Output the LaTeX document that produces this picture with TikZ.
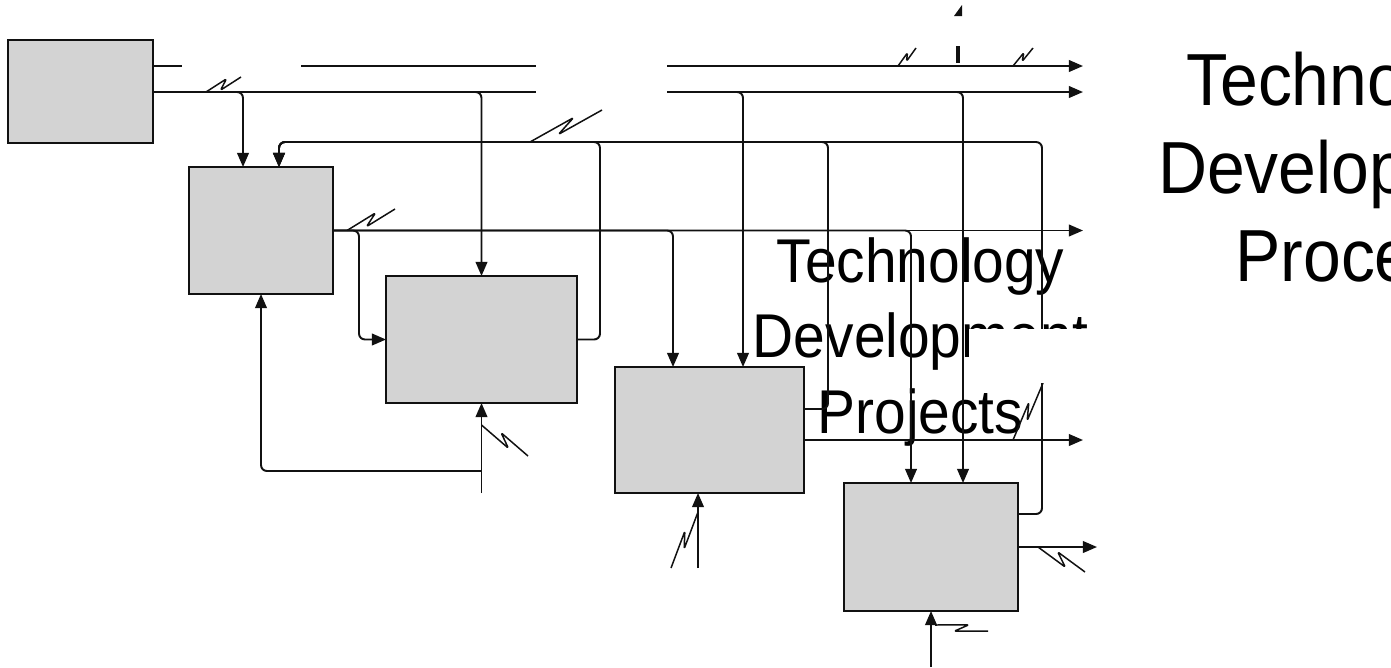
\documentclass[tikz,border=0pt]{standalone}
\usepackage{fontspec}
\setmainfont{Liberation Sans}
\newfontfamily\labelfont[FakeStretch=0.92]{Liberation Sans}
\usetikzlibrary{arrows.meta,calc}
\definecolor{boxgray}{RGB}{211,211,211}
\definecolor{ink}{RGB}{17,17,17}

% lightning-bolt mark on a flow line: start, end, side angles, offset
\newcommand\tunnel[5]{%
  \draw[zig] (#1) -- ($(#1)!0.63!(#2)!#5!#3:(#2)$)
                  -- ($(#1)!0.37!(#2)!#5!#4:(#2)$) -- (#2);}

\tikzset{
  procbox/.style={draw=ink, line width=1.3pt, fill=boxgray, inner sep=0pt, outer sep=0pt},
  flow/.style={draw=ink, line width=1.1pt, rounded corners=3.4pt},
  arr/.style={flow, -{Triangle[length=8pt,width=6.6pt]}},
  zig/.style={draw=ink, line width=0.85pt, line join=round, rounded corners=0.8pt},
  midtitle/.style={anchor=base, inner sep=0pt, text=black,
    font=\labelfont\fontsize{35.2}{42}\selectfont},
  sidetitle/.style={anchor=base, inner sep=0pt, text=black,
    font=\labelfont\fontsize{42}{50}\selectfont},
}

\begin{document}
\begin{tikzpicture}[x=0.02cm, y=-0.02cm]
\useasboundingbox (0,0) rectangle (1391,667);

% activity boxes
\node[procbox, minimum width=2.90cm, minimum height=2.06cm] (A) at (80.5,91.5) {};
\node[procbox, minimum width=2.88cm, minimum height=2.54cm] (B) at (261,230.5) {};
\node[procbox, minimum width=3.82cm, minimum height=2.54cm] (C) at (481.5,339.5) {};
\node[procbox, minimum width=3.78cm, minimum height=2.52cm] (D) at (709.5,430) {};
\node[procbox, minimum width=3.48cm, minimum height=2.56cm] (E) at (931,547) {};

% titles
\node[midtitle] (mt1) at (920.5,282.7) {Technology};
\node[midtitle] (mt2) at (920.5,357) {Development};
\node[midtitle] (mt3) at (920.5,433) {Projects};
\node[sidetitle] (st1) at (1358,105) {Technology};
\node[sidetitle] (st2) at (1358,193) {Development};
\node[sidetitle] (st3) at (1358,281) {Process};

% free ends of the outgoing flows
\coordinate (out1) at (1083,66);
\coordinate (out2) at (1083,92);
\coordinate (out3) at (1083,230.5);
\coordinate (out4) at (1083,440);
\coordinate (out5) at (1097,547);
\coordinate (mechC) at (481.5,493);
\coordinate (mechD) at (698,568);
\coordinate (mechE) at (931,667);

% upper flow from A
\draw[flow] (A.east |- 0,66) -- (182,66);
\draw[flow] (301,66) -- (536,66);
\draw[arr] (667,66) -- (out1);

% lower flow from A and its branches
\draw[flow] (A.east |- 0,92) -- (536,92);
\draw[arr] (667,92) -- (out2);
\draw[arr] (A.east |- 0,92) -| (B.north -| 243,0);
\draw[arr] (A.east |- 0,92) -| (C.north);
\draw[arr] (667,92) -| (D.north -| 743,0);
\draw[arr] (667,92) -| (E.north -| 963,0);

% output of B and its branches
\draw[arr] (B.east) -- (out3);
\draw[arr] (B.east) -- (359,230.5) |- (C.west);
\draw[arr] (B.east) -| (D.north -| 673,0);
\draw[arr] (B.east) -| (E.north -| 911,0);

% feedback into the top of B
\draw[arr] (C.east) -- (600,339.5) |- (279,142) -- (B.north -| 279,0);
\draw[arr] (D.east |- 0,409) -- (828,409) |- (279,142) -- (B.north -| 279,0);
\draw[arr] (E.east |- 0,514) -- (1042,514) |- (279,142) -- (B.north -| 279,0);

% outputs of D and E
\draw[arr] (D.east |- 0,440) -- (out4);
\draw[arr] (E.east) -- (out5);

% mechanisms from below
\draw[arr] (mechC) -- (C.south);
\draw[arr] (C.south |- 0,471) -| (B.south);
\draw[arr] (mechD) -- (D.south -| mechD);
\draw[arr] (mechE) -- (E.south);

% vertical stub above the upper flow
\fill[ink] (954,16) -- (962,16) -- (962,5) -- cycle;
\draw[ink, line width=2.4pt] (958,46) -- (958,63);

% lightning marks
\tunnel{206,92}{241,77}{90}{-90}{2.3pt}
\tunnel{530,142}{602,110}{90}{-90}{2.6pt}
\tunnel{347,230.5}{395,209}{90}{-90}{2.5pt}
\tunnel{481.5,425}{528,456}{-90}{90}{2.5pt}
\tunnel{698,512}{671,568}{90}{-90}{2pt}
\tunnel{898,66}{916,48}{90}{-90}{1.5pt}
\tunnel{1013,66}{1033,48}{90}{-90}{1.5pt}
\tunnel{1013,440}{1043,383}{90}{-90}{2pt}
\tunnel{1038,547}{1085,572}{-90}{90}{2.8pt}
\tunnel{935,625}{988,631}{90}{-90}{2.3pt}

% white panel partly hiding the word "Development"
\fill[white] (969,329) rectangle (1100,383);
\end{tikzpicture}
\end{document}
